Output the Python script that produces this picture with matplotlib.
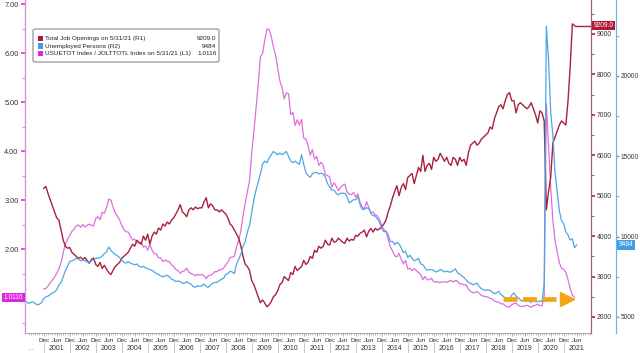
import numpy as np
import pandas as pd
import matplotlib
matplotlib.use("Agg")
import matplotlib.pyplot as plt
from matplotlib.patches import FancyBboxPatch, Rectangle
from matplotlib.transforms import blended_transform_factory

plt.rcParams['font.family'] = ['Liberation Sans', 'DejaVu Sans']

# ---------------- data (thousands, monthly) ----------------
openings_start = '2000-12'
openings = [
    5180,
    5230, 5050, 4900, 4750, 4600, 4450, 4400, 4150, 3900, 3750, 3700, 3720,
    3600, 3550, 3500, 3450, 3480, 3420, 3470, 3400, 3330, 3420, 3460, 3300,
    3250, 3350, 3200, 3280, 3180, 3100, 3050, 3150, 3250, 3300, 3350, 3450,
    3500, 3550, 3600, 3700, 3800, 3750, 3900, 3850, 3800, 4000, 3900, 4050,
    3800, 4000, 4100, 4050, 4200, 4150, 4300, 4250, 4350, 4300, 4400, 4450,
    4550, 4650, 4780, 4600, 4550, 4480, 4650, 4700, 4650, 4720, 4680, 4700,
    4700, 4850, 4950, 4700, 4800, 4750, 4650, 4650, 4600, 4650, 4600, 4550,
    4450, 4300, 4250, 4150, 4050, 3950, 3750, 3500, 3300, 3250, 3150, 2900,
    2800, 2650, 2500, 2350, 2420, 2350, 2250, 2300, 2380, 2500, 2550, 2650,
    2800, 2850, 3000, 2950, 2900, 3100, 3050, 3250, 3150, 3200, 3250, 3400,
    3300, 3350, 3500, 3450, 3650, 3600, 3750, 3700, 3750, 3900, 3800, 3780,
    3950, 3850, 3870, 3950, 3900, 3850, 3820, 3950, 3880, 3920, 3900, 4020,
    4000, 4070, 4100, 4150, 3980, 4120, 4190, 4100, 4190, 4150, 4180, 4230,
    4300, 4400, 4600, 4750, 4950, 5100, 5250, 5000, 5200, 5300, 5150, 5450,
    5500, 5550, 5300, 5500, 5700, 5600, 6000, 5600, 5750, 5800, 5650, 5950,
    5850, 5900, 6050, 5950, 5850, 5950, 5800, 5750, 5950, 5900, 5750, 5950,
    5850, 5900, 5750, 6050, 6250, 6300, 6350, 6250, 6300, 6400, 6450, 6500,
    6550, 6700, 6650, 6900, 7050, 7200, 7250, 7150, 7350, 7500, 7550, 7350,
    7350, 7050, 7250, 7300, 7250, 7200, 7150, 7200, 7300, 7150, 7000, 6800,
    7100, 7050, 6850, 4650, 5100, 5450, 6300, 6450, 6600, 6750, 6850, 6800,
    6750, 7350, 8200, 9250, 9209,
]

unemployed_start = '2000-04'
unemployed = [
    5950, 5850, 5900, 5950, 5850, 5750, 5800, 5900, 6150,
    6250, 6300, 6400, 6500, 6550, 6700, 7000, 7150, 7500, 7900, 8150, 8450,
    8500, 8550, 8650, 8600, 8500, 8550, 8500, 8450, 8350, 8500, 8550, 8650,
    8650, 8700, 8800, 8950, 9050, 9350, 9150, 9000, 8900, 8800, 8700, 8550,
    8400, 8350, 8450, 8350, 8300, 8250, 8300, 8150, 8100, 8150, 8050, 8000,
    7950, 7900, 7800, 7700, 7650, 7550, 7500, 7550, 7600, 7500, 7350, 7300,
    7200, 7250, 7200, 7100, 7100, 7200, 7100, 7050, 6900, 6850, 6950, 6900,
    6950, 7050, 6900, 6850, 7000, 7100, 7150, 7150, 7250, 7350, 7400, 7650,
    7700, 7850, 7800, 7700, 8300, 8600, 8900, 9400, 9700, 10300, 10700, 11500,
    12300, 12900, 13400, 13900, 14500, 14700, 14600, 14900, 15100, 15300, 15200, 15100,
    15200, 15100, 15200, 15300, 15000, 14700, 14600, 14700, 14600, 14500, 15100, 14500,
    14000, 13800, 13700, 13900, 14000, 14000, 13900, 13950, 13900, 13700, 13300, 13100,
    12900, 12900, 12700, 12600, 12700, 12700, 12700, 12500, 12100, 12200, 12300, 12300,
    12500, 12000, 11700, 11700, 11800, 11750, 11450, 11300, 11300, 11100, 10900, 10500,
    10300, 10350, 10100, 9700, 9700, 9500, 9650, 9550, 9300, 9000, 9100, 8700,
    8850, 8650, 8500, 8550, 8650, 8300, 8250, 8050, 7900, 7950, 7950, 7900,
    7800, 7850, 7950, 7900, 7800, 7850, 7800, 7800, 7900, 8000, 7750, 7650,
    7550, 7450, 7300, 7150, 7100, 7000, 7050, 7100, 6900, 6750, 6700, 6650,
    6700, 6650, 6550, 6450, 6500, 6600, 6400, 6300, 6200, 6150, 6150, 6350,
    6500, 6300, 6200, 6050, 6000, 6000, 6100, 6000, 5900, 6050, 5950, 5950,
    6000, 5950, 7100, 23100, 21000, 17750, 16300, 14000, 12800, 11600, 11000, 10800,
    10300, 10100, 9800, 9850, 9316, 9484,
]

legend_labels = ['Total Job Openings on 5/31/21 (R1)',
                 'Unemployed Persons (R2)',
                 'USUETOT Index / JOLTTOTL Index on 5/31/21 (L1)']
l1_ticks = [1, 2, 3, 4, 5, 6, 7]
r1_ticks = [2000, 3000, 4000, 5000, 6000, 7000, 8000, 9000]
r2_ticks = [5000, 10000, 15000, 20000]
years = list(range(2001, 2022))

# ---------------- series ----------------
s_open = pd.Series(openings, index=pd.period_range(openings_start, periods=len(openings), freq='M'), dtype=float)
s_unemp = pd.Series(unemployed, index=pd.period_range(unemployed_start, periods=len(unemployed), freq='M'), dtype=float)
s_ratio = (s_unemp / s_open).dropna()

def xpos(idx):
    # month-end positions in fractional years
    return idx.year + idx.month / 12.0

# ---------------- style ----------------
C_RED = '#a8213d'
C_BLUE = '#4ea6e2'
C_PINK = '#dc6fdc'
C_ORANGE = '#f2a516'
W, H = 640, 353
XMIN, XMAX = 2000.28, 2022.05

fig = plt.figure(figsize=(6.4, 3.53), dpi=100)
ax = fig.add_axes([25 / W, 20 / H, 566 / W, 333 / H])
ax_r1 = ax.twinx()
ax_r2 = ax.twinx()

ax.plot(xpos(s_ratio.index), s_ratio.values, color=C_PINK, lw=0.9)
ax_r1.plot(xpos(s_open.index), s_open.values, color=C_RED, lw=1.0)
x_last = xpos(s_open.index)[-1]
ax_r1.plot([x_last, XMAX], [s_open.values[-1]] * 2, color=C_RED, lw=1.0, clip_on=False)
ax_r2.plot(xpos(s_unemp.index), s_unemp.values, color=C_BLUE, lw=0.9)

ax.set_xlim(XMIN, XMAX)
ax.set_ylim(0.286, 7.082)
ax_r1.set_ylim(1604, 9841)
ax_r2.set_ylim(4004, 24729)

# spines
for a in (ax, ax_r1, ax_r2):
    a.spines['top'].set_visible(False)
ax.spines['right'].set_visible(False)
ax.spines['left'].set_color('#d98fd9')
ax.spines['left'].set_linewidth(1.0)
ax.spines['bottom'].set_color('#9a9a9a')
ax.spines['bottom'].set_linewidth(0.6)
for a in (ax_r1, ax_r2):
    a.spines['left'].set_visible(False)
    a.spines['bottom'].set_visible(False)
ax_r1.spines['right'].set_color('#a65d70')
ax_r1.spines['right'].set_linewidth(0.9)
ax_r2.spines['right'].set_position(('axes', 1 + 25 / 566))
ax_r2.spines['right'].set_color('#6cb4e8')
ax_r2.spines['right'].set_linewidth(0.9)

# y ticks (1.00 label is hidden behind the value tag in the original)
ax.set_yticks(l1_ticks)
ax.set_yticklabels(['' if v == 1 else f'{v:.2f}' for v in l1_ticks])
ax.set_yticks(np.arange(0.5, 7.01, 1.0), minor=True)
ax.tick_params(axis='y', which='major', colors='#e030e0', labelcolor='#333333',
               labelsize=5.3, length=3, width=1.2, pad=1.5)
ax.tick_params(axis='y', which='minor', colors='#d98fd9', length=2, width=0.8)

ax_r1.set_yticks(r1_ticks)
ax_r1.set_yticklabels([str(v) for v in r1_ticks])
ax_r1.set_yticks(np.arange(2500, 9600, 1000), minor=True)
ax_r1.tick_params(axis='y', which='major', colors='#b0203a', labelcolor='#333333',
                  labelsize=4.9, length=3, width=1.2, pad=1.2)
ax_r1.tick_params(axis='y', which='minor', colors='#b06a7a', length=2, width=0.8)

ax_r2.set_yticks(r2_ticks)
ax_r2.set_yticklabels([str(v) for v in r2_ticks])
ax_r2.set_yticks(np.arange(7500, 24000, 5000), minor=True)
ax_r2.tick_params(axis='y', which='major', colors='#4ea6e2', labelcolor='#333333',
                  labelsize=4.7, length=2.5, width=1.0, pad=1.0)
ax_r2.tick_params(axis='y', which='minor', colors='#6cb4e8', length=2, width=0.8)

# x ticks: Jun / Dec labels at month ends, monthly minor ticks
xt, xl = [], []
for y in [2000] + years:
    for pos, lab in ((y + 0.5, 'Jun'), (y + 1.0, 'Dec')):
        if 2000.9 <= pos <= 2021.6:
            xt.append(pos)
            xl.append(lab)
ax.set_xticks(xt)
ax.set_xticklabels(xl)
ax.set_xticks(np.arange(2000 + 5 / 12, XMAX, 1 / 12), minor=True)
ax.tick_params(axis='x', which='major', colors='#999999', labelcolor='#333333',
               labelsize=4.6, length=2.5, width=0.6, pad=0.8)
ax.tick_params(axis='x', which='minor', colors='#aaaaaa', length=1.5, width=0.5)

# year labels and separators
trans = blended_transform_factory(ax.transData, ax.transAxes)
px = 1 / 333.0
for y in years:
    c = (max(y, XMIN) + min(y + 1, XMAX)) / 2
    ax.text(c, -15.5 * px, str(y), transform=trans, ha='center', va='center',
            fontsize=5.0, color='#333333', clip_on=False)
    ax.plot([y, y], [-10 * px, -20 * px], transform=trans, color='#bbbbbb', lw=0.6, clip_on=False)
ax.text(2000.5, -15.5 * px, '...', transform=trans, ha='center', va='center',
        fontsize=4.6, color='#555555', clip_on=False)

# orange dashed arrow (annotation)
arrow_y = 0.99
ax_r2.plot([2018.67, 2020.86], [arrow_y, arrow_y], transform=ax.transData,
           color=C_ORANGE, lw=3.4, dashes=(2.97, 1.16), solid_capstyle='butt',
           dash_capstyle='butt', zorder=6)
ax_r2.plot([2021.14], [arrow_y], transform=ax.transData, marker='>', markersize=10,
           color=C_ORANGE, linestyle='none', zorder=6)

# value tags
ax_r1.annotate(f'{s_open.values[-1]:.1f}', xy=(1.0, s_open.values[-1]),
               xycoords=('axes fraction', 'data'), xytext=(2.0, 0), textcoords='offset points',
               ha='left', va='center', fontsize=4.8, color='white', zorder=10,
               bbox=dict(boxstyle='square,pad=0.2', fc='#b5173a', ec='none'),
               annotation_clip=False)
ax_r2.annotate(f'{s_unemp.values[-1]:.0f}', xy=(1 + 25 / 566, s_unemp.values[-1]),
               xycoords=('axes fraction', 'data'), xytext=(2.0, 0), textcoords='offset points',
               ha='left', va='center', fontsize=4.8, color='white', zorder=10,
               bbox=dict(boxstyle='square,pad=0.25', fc='#3f9de4', ec='none'),
               annotation_clip=False)
ax.annotate(f'{s_ratio.values[-1]:.4f}', xy=(0.0, s_ratio.values[-1]),
            xycoords=('axes fraction', 'data'), xytext=(-1.2, 0), textcoords='offset points',
            ha='right', va='center', fontsize=4.8, color='white', zorder=10,
            bbox=dict(boxstyle='square,pad=0.2', fc='#e024e0', ec='none'),
            annotation_clip=False)

# legend box
lx0, lx1 = 33 / W, 219 / W
ly0, ly1 = 1 - 62 / H, 1 - 29 / H
fig.patches.append(FancyBboxPatch((lx0, ly0), lx1 - lx0, ly1 - ly0,
                                  boxstyle='round,pad=0,rounding_size=0.004',
                                  transform=fig.transFigure, fc='white', ec='#8a8a8a',
                                  lw=0.8, zorder=5))
leg_colors = ['#b5173a', '#3f9de4', '#e024e0']
leg_values = [f'{s_open.values[-1]:.1f}', f'{s_unemp.values[-1]:.0f}', f'{s_ratio.values[-1]:.4f}']
for i, (lab, col, val) in enumerate(zip(legend_labels, leg_colors, leg_values)):
    yc = 1 - (38.5 + i * 7.6) / H
    fig.patches.append(Rectangle((38 / W, yc - 2.7 / H), 5.2 / W, 5.4 / H,
                                 transform=fig.transFigure, fc=col, ec='none', zorder=6))
    fig.text(45 / W, yc, lab, ha='left', va='center', fontsize=4.6, color='#222222', zorder=7)
    fig.text(216.5 / W, yc, val, ha='right', va='center', fontsize=4.6, color='#222222', zorder=7)

fig.savefig('out.png', dpi=100)
